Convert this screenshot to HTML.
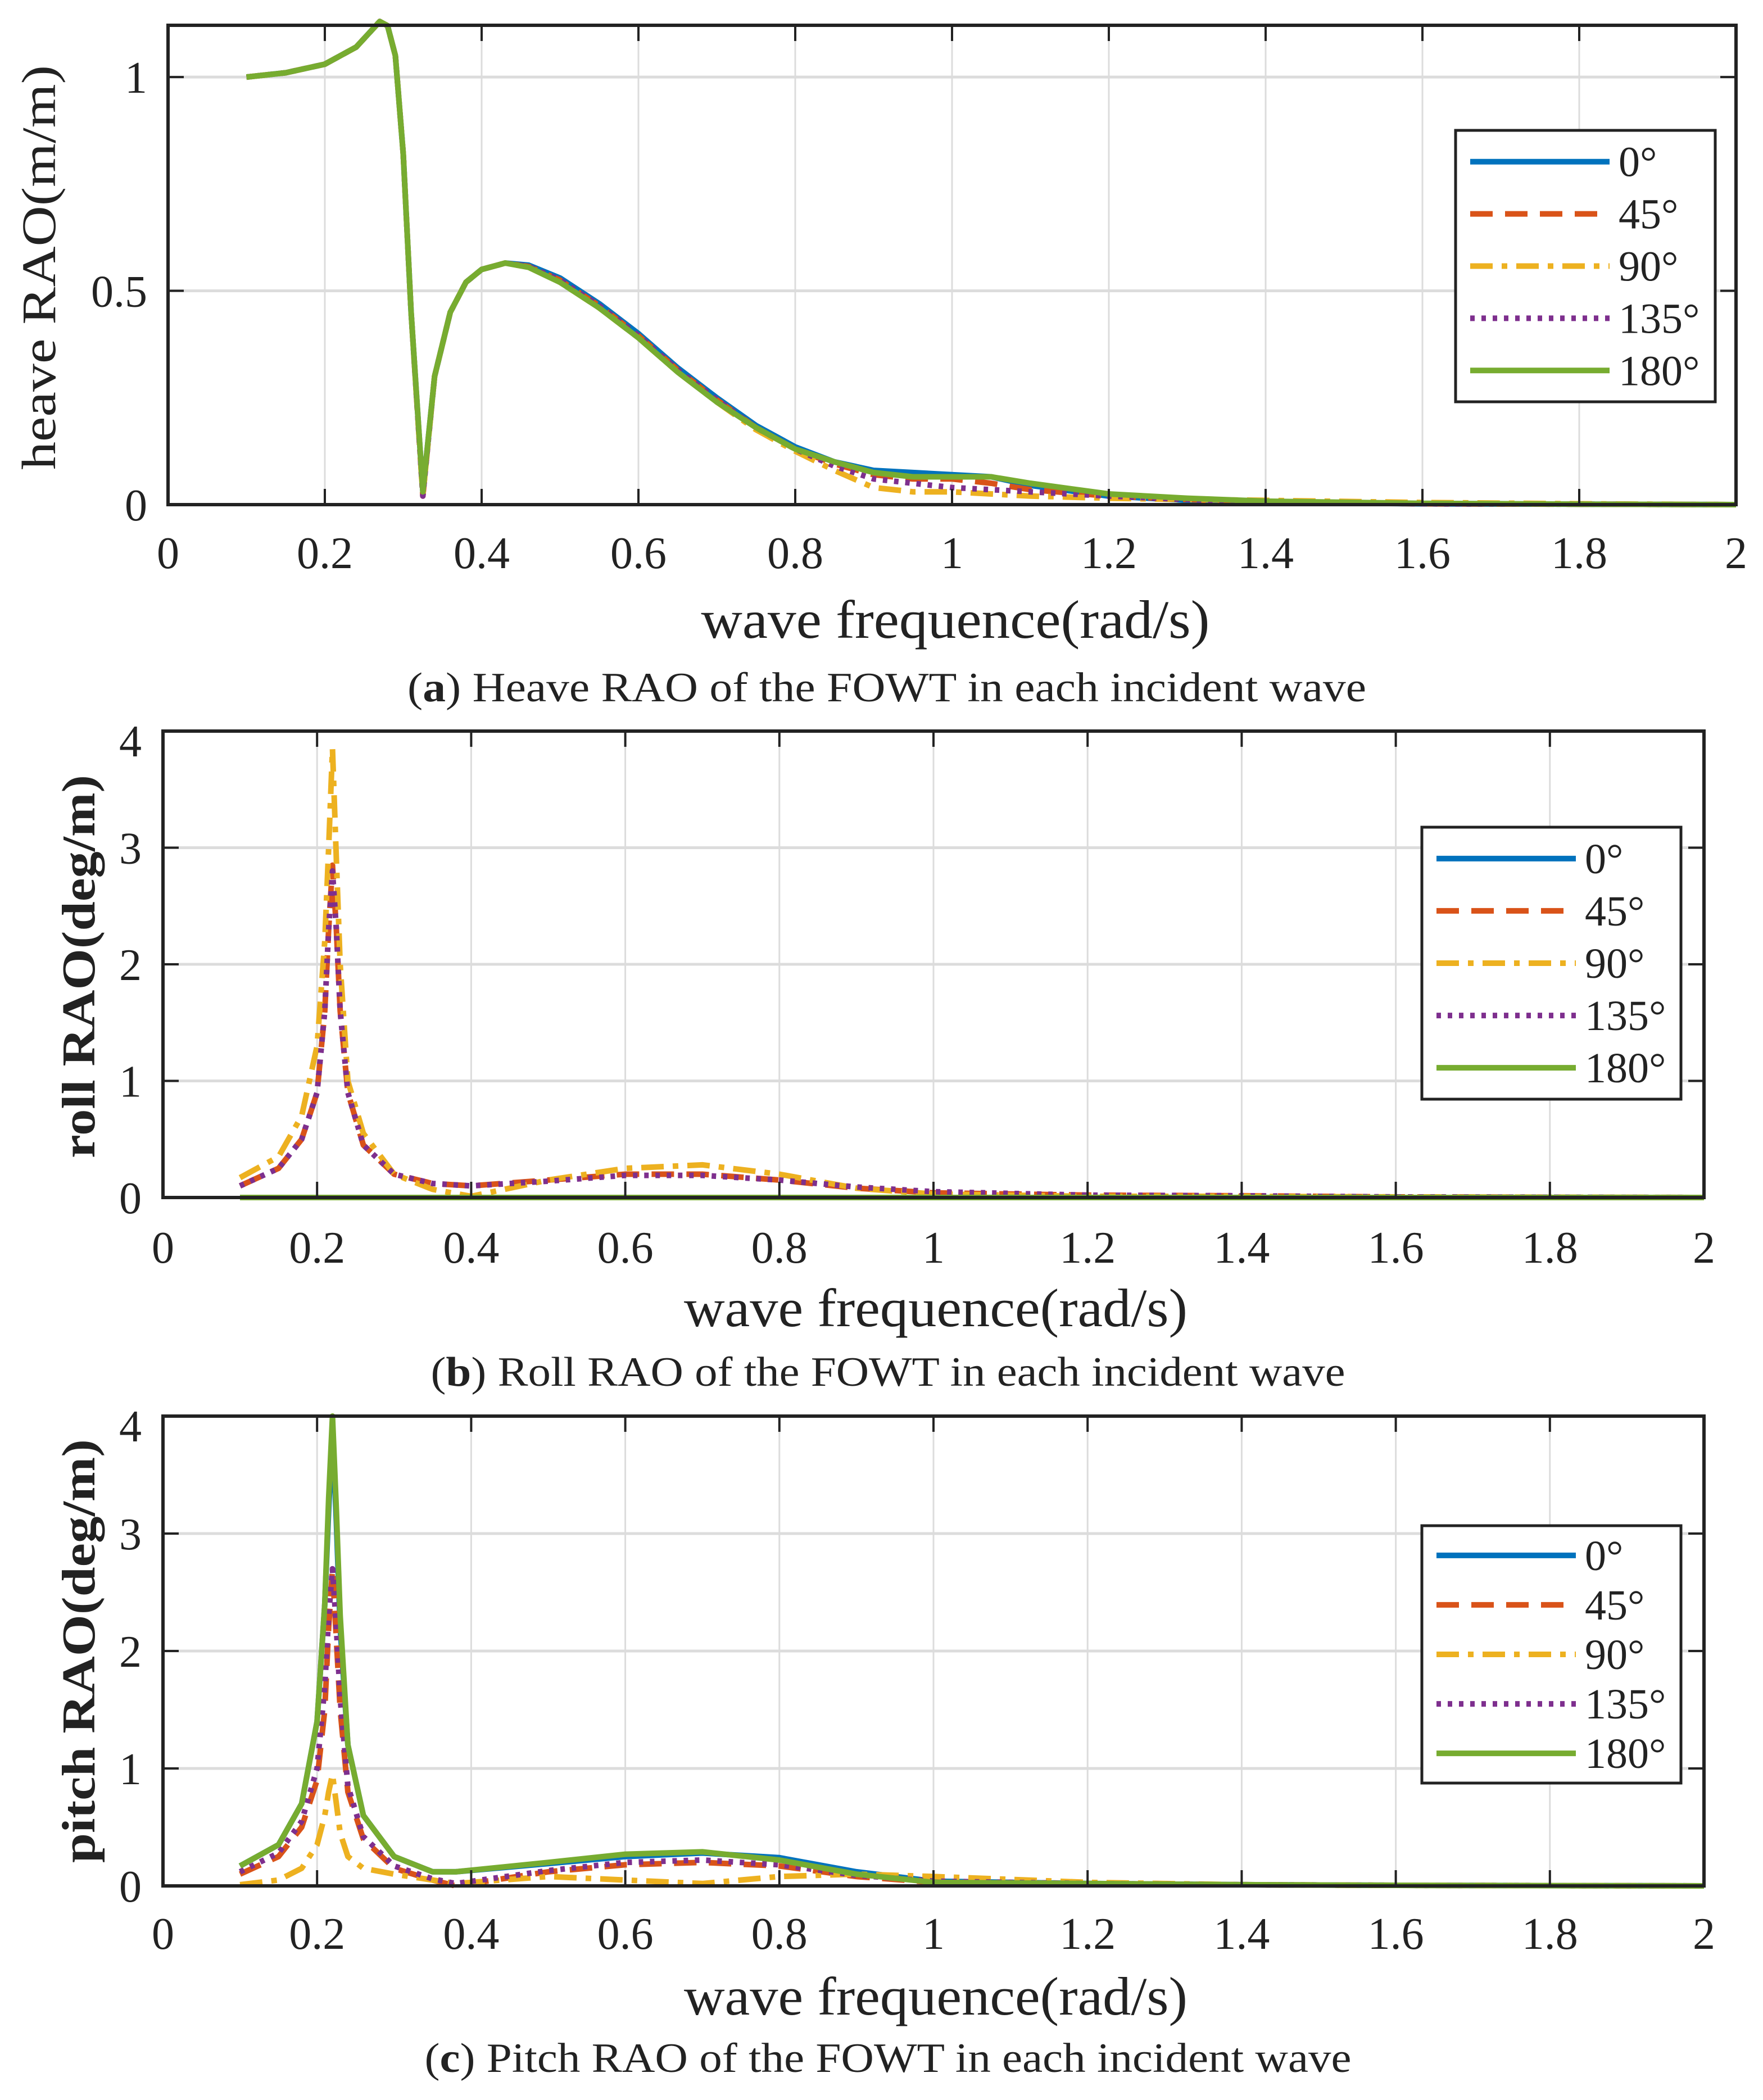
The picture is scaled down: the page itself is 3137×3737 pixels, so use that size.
<!DOCTYPE html>
<html><head><meta charset="utf-8"><style>
html,body{margin:0;padding:0;background:#fff}
svg{display:block}
text{font-family:"Liberation Serif",serif;fill:#222}
</style></head><body>
<svg id="fig" width="3137" height="3737" viewBox="0 0 3137 3737" xmlns="http://www.w3.org/2000/svg"></svg>
<script>
// ---- data ----
const heaveX=[0.1,0.15,0.2,0.24,0.27,0.28,0.29,0.3,0.31,0.325,0.34,0.36,0.38,0.4,0.43,0.46,0.5,0.55,0.6,0.65,0.7,0.75,0.8,0.85,0.9,0.95,1.0,1.05,1.1,1.2,1.3,1.4,1.6,1.8,2.0];
const heave180=[1.0,1.01,1.03,1.07,1.13,1.12,1.05,0.82,0.45,0.03,0.3,0.45,0.52,0.55,0.565,0.555,0.52,0.46,0.39,0.31,0.24,0.18,0.13,0.1,0.075,0.065,0.065,0.065,0.05,0.025,0.015,0.008,0.003,0.001,0];
const heave0=[1.0,1.01,1.03,1.07,1.13,1.12,1.05,0.82,0.45,0.03,0.3,0.45,0.52,0.55,0.565,0.56,0.53,0.47,0.4,0.32,0.25,0.185,0.135,0.1,0.08,0.075,0.07,0.065,0.045,0.02,0.01,0.005,0.002,0.001,0];
const heave45=[1.0,1.01,1.03,1.07,1.13,1.12,1.05,0.82,0.45,0.02,0.3,0.45,0.52,0.55,0.565,0.557,0.525,0.465,0.395,0.315,0.245,0.18,0.13,0.095,0.07,0.06,0.06,0.05,0.035,0.02,0.012,0.006,0.002,0.001,0];
const heave90=[1.0,1.01,1.03,1.07,1.13,1.12,1.05,0.82,0.45,0.02,0.3,0.45,0.52,0.55,0.565,0.555,0.52,0.46,0.39,0.31,0.24,0.175,0.125,0.08,0.04,0.03,0.03,0.025,0.02,0.015,0.012,0.01,0.005,0.002,0];
const heave135=[1.0,1.01,1.03,1.07,1.13,1.12,1.05,0.82,0.45,0.02,0.3,0.45,0.52,0.55,0.565,0.557,0.525,0.465,0.395,0.315,0.245,0.18,0.13,0.09,0.06,0.05,0.04,0.035,0.03,0.02,0.012,0.006,0.002,0.001,0];

const rollX=[0.1,0.15,0.18,0.2,0.21,0.215,0.22,0.225,0.23,0.24,0.26,0.3,0.35,0.4,0.5,0.6,0.7,0.8,0.9,1.0,1.2,1.4,1.6,2.0];
const roll0=[0,0,0,0,0,0,0,0,0,0,0,0,0,0,0,0,0,0,0,0,0,0,0,0];
const roll45=[0.1,0.25,0.5,0.9,1.6,2.3,2.85,2.3,1.6,0.9,0.45,0.2,0.12,0.1,0.15,0.2,0.2,0.15,0.08,0.04,0.02,0.015,0.005,0];
const roll90=[0.17,0.35,0.7,1.3,2.2,3.0,3.85,2.9,2.0,1.0,0.55,0.2,0.07,0.01,0.15,0.25,0.28,0.2,0.08,0.03,0.01,0.01,0.005,0];
const roll135=[0.1,0.25,0.5,0.9,1.6,2.3,2.8,2.3,1.6,0.9,0.45,0.2,0.12,0.1,0.14,0.19,0.19,0.15,0.09,0.05,0.02,0.015,0.005,0];
const roll180=[0,0,0,0,0,0,0,0,0,0,0,0,0,0,0,0,0,0,0,0,0,0,0,0];

const pitchX=[0.1,0.15,0.18,0.2,0.21,0.215,0.22,0.225,0.23,0.24,0.26,0.3,0.35,0.38,0.5,0.6,0.7,0.8,0.9,1.0,1.2,1.4,1.6,2.0];
const pitch0=[0.17,0.35,0.7,1.4,2.4,3.2,3.9,3.1,2.2,1.2,0.6,0.25,0.12,0.12,0.19,0.25,0.28,0.24,0.12,0.04,0.02,0.01,0.005,0];
const pitch45=[0.1,0.25,0.5,0.9,1.5,2.2,2.7,2.1,1.5,0.8,0.4,0.15,0.05,0.0,0.12,0.18,0.2,0.17,0.08,0.03,0.02,0.01,0.005,0];
const pitch90=[0.01,0.05,0.15,0.35,0.6,0.8,0.95,0.7,0.45,0.25,0.15,0.1,0.05,0.02,0.08,0.05,0.02,0.08,0.1,0.08,0.03,0.01,0.005,0];
const pitch135=[0.12,0.28,0.55,1.0,1.7,2.3,2.7,2.2,1.6,0.85,0.42,0.17,0.06,0.02,0.13,0.2,0.22,0.18,0.09,0.04,0.02,0.01,0.005,0];
const pitch180=[0.17,0.35,0.7,1.4,2.4,3.3,4.0,3.2,2.3,1.2,0.6,0.25,0.12,0.12,0.2,0.27,0.29,0.22,0.1,0.03,0.02,0.01,0.005,0];

const xTicks=[0,0.2,0.4,0.6,0.8,1,1.2,1.4,1.6,1.8,2];
const xTickLabels=["0","0.2","0.4","0.6","0.8","1","1.2","1.4","1.6","1.8","2"];
const heaveYTicks=[0,0.5,1];
const heaveYLabels=["0","0.5","1"];
const rotYTicks=[0,1,2,3,4];
const rotYLabels=["0","1","2","3","4"];
const legendLabels=["0°","45°","90°","135°","180°"];

// ---- styles ----
const colors=["#0072BD","#D95319","#EDB120","#7E2F8E","#77AC30"];
const dashes=["none","40 22","40 16 10 16","8 12","none"];
const NS="http://www.w3.org/2000/svg";
const svg=document.getElementById('fig');
function el(tag,attrs,parent){const e=document.createElementNS(NS,tag);for(const k in attrs)e.setAttribute(k,attrs[k]);(parent||svg).appendChild(e);return e;}

const panels=[
 {id:'heave',L:299,R:3089,T:45,B:898,ymax:1.121,yt:heaveYTicks,yl:heaveYLabels,xs:heaveX,series:[heave0,heave45,heave90,heave135,heave180],
  ylab:'heave RAO(m/m)',bold:false,ylx:70,ylc:476,yllen:720,ylfs:86,ytr:262,tickY:1011,xlab:{c:1700,y:1135,w:905},cap:{t:'Heave RAO of the FOWT in each incident wave',l:'a',c:1578,y:1248,w:1706},
  leg:{x:2590,y:232,w:462,h:483}},
 {id:'roll',L:290,R:3032,T:1301,B:2131,ymax:4,yt:rotYTicks,yl:rotYLabels,xs:rollX,series:[roll0,roll45,roll90,roll135,roll180],
  ylab:'roll RAO(deg/m)',bold:true,ylx:140,ylc:1720,yllen:682,ylfs:84,ytr:252,tickY:2247,xlab:{c:1665,y:2360,w:896},cap:{t:'Roll RAO of the FOWT in each incident wave',l:'b',c:1580,y:2466,w:1627},
  leg:{x:2530,y:1472,w:461,h:484}},
 {id:'pitch',L:290,R:3032,T:2520,B:3356,ymax:4,yt:rotYTicks,yl:rotYLabels,xs:pitchX,series:[pitch0,pitch45,pitch90,pitch135,pitch180],
  ylab:'pitch RAO(deg/m)',bold:true,ylx:140,ylc:2938,yllen:754,ylfs:84,ytr:252,tickY:3468,xlab:{c:1665,y:3585,w:896},cap:{t:'Pitch RAO of the FOWT in each incident wave',l:'c',c:1580,y:3687,w:1649},
  leg:{x:2530,y:2715,w:461,h:458}}
];

panels.forEach(p=>{
  const g=el('g',{});
  
  
  const sx=v=>p.L+(v/2)*(p.R-p.L);
  const sy=v=>p.B-(v/p.ymax)*(p.B-p.T);
  xTicks.forEach((t,i)=>{
    if(i>0&&i<xTicks.length-1){const l=el('line',{x1:sx(t),x2:sx(t),y1:p.T,y2:p.B,stroke:'#dcdcdc','stroke-width':3},g);
      }
  });
  p.yt.forEach((t,i)=>{
    if(t>0&&t<p.ymax-0.01){const l=el('line',{x1:p.L,x2:p.R,y1:sy(t),y2:sy(t),stroke:'#dcdcdc','stroke-width':5},g);
      }
  });
  p.series.forEach((s,k)=>{
    const d=s.map((v,i)=>(i?'L':'M')+sx(p.xs[i]).toFixed(1)+' '+sy(v).toFixed(1)).join(' ');
    const path=el('path',{d:d,fill:'none',stroke:colors[k],'stroke-width':10,'stroke-dasharray':dashes[k],'stroke-linejoin':'round'},g);
    
    
  });
  xTicks.forEach((t,i)=>{
    el('line',{x1:sx(t),x2:sx(t),y1:p.B,y2:p.B-28,stroke:'#222','stroke-width':4},g);
    el('line',{x1:sx(t),x2:sx(t),y1:p.T,y2:p.T+28,stroke:'#222','stroke-width':4},g);
    const tx=el('text',{x:sx(t),y:p.tickY,'font-size':80,'text-anchor':'middle'},g);
    tx.textContent=xTickLabels[i];
    
    
  });
  p.yt.forEach((t,i)=>{
    el('line',{x1:p.L,x2:p.L+28,y1:sy(t),y2:sy(t),stroke:'#222','stroke-width':4},g);
    el('line',{x1:p.R,x2:p.R-28,y1:sy(t),y2:sy(t),stroke:'#222','stroke-width':4},g);
    const ty=el('text',{x:p.ytr,y:Math.max(sy(t)+28,p.T+45),'font-size':80,'text-anchor':'end'},g);
    ty.textContent=p.yl[i];
    
    
  });
  const box=el('rect',{x:p.L,y:p.T,width:p.R-p.L,height:p.B-p.T,fill:'none',stroke:'#222','stroke-width':6},g);
  
  const yl=el('text',{x:0,y:0,'font-size':p.ylfs,'text-anchor':'middle','font-weight':p.bold?'bold':'normal',textLength:p.yllen,lengthAdjust:'spacingAndGlyphs',transform:`translate(${p.ylx+28},${p.ylc}) rotate(-90)`},g);
  yl.textContent=p.ylab;
  
  const xl=el('text',{x:p.xlab.c,y:p.xlab.y,'font-size':96,'text-anchor':'middle',textLength:p.xlab.w,lengthAdjust:'spacingAndGlyphs'},g);
  xl.textContent='wave frequence(rad/s)';
  
  const cp=el('text',{x:p.cap.c,y:p.cap.y,'font-size':74,'text-anchor':'middle',textLength:p.cap.w,lengthAdjust:'spacingAndGlyphs'},g);
  cp.innerHTML='(<tspan font-weight="bold">'+p.cap.l+'</tspan>) '+p.cap.t;
  
  const lg=el('g',{},g);
  
  el('rect',{x:p.leg.x,y:p.leg.y,width:p.leg.w,height:p.leg.h,fill:'#fff',stroke:'#222','stroke-width':5},lg);
  const step=p.leg.h/5.2;
  legendLabels.forEach((lab,k)=>{
    const cy=p.leg.y+step*(k+0.6);
    const e=el('g',{},lg);
    
    el('line',{x1:p.leg.x+26,x2:p.leg.x+274,y1:cy,y2:cy,stroke:colors[k],'stroke-width':10,'stroke-dasharray':dashes[k]},e);
    const t=el('text',{x:p.leg.x+290,y:cy+26,'font-size':76},e);
    t.textContent=lab;
  });
});
</script>
</body></html>
